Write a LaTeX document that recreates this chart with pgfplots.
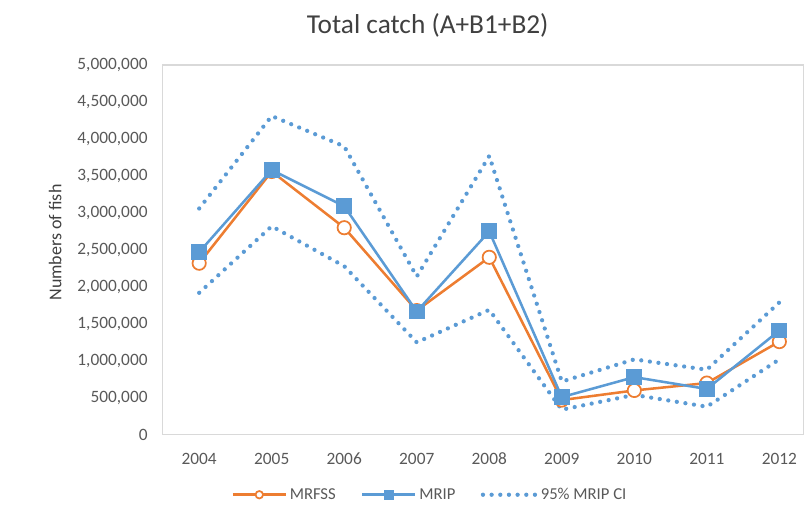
\documentclass[border=0pt]{standalone}
\usepackage{fontspec}
\setmainfont{Carlito}
\usepackage{pgfplots}
\pgfplotsset{compat=1.18}
\definecolor{mrfss}{HTML}{ED7D31}
\definecolor{mrip}{HTML}{5B9BD5}
\definecolor{axgray}{HTML}{D9D9D9}
\definecolor{txtgray}{HTML}{595959}
\definecolor{titlegray}{HTML}{404040}
\begin{document}
\begin{tikzpicture}
\begin{axis}[
    scale only axis,
    width=481pt, height=277.5pt,
    xmin=-0.5, xmax=8.34,
    ymin=0, ymax=5000000,
    xtick={0,1,2,3,4,5,6,7,8},
    xticklabels={2004,2005,2006,2007,2008,2009,2010,2011,2012},
    ytick={0,500000,1000000,1500000,2000000,2500000,3000000,3500000,4000000,4500000,5000000},
    scaled y ticks=false,
    major tick length=0pt,
    axis line style={axgray, line width=0.8pt},
    ticklabel style={font=\fontsize{13}{15}\selectfont, text=txtgray},
    yticklabel style={xshift=-8pt, /pgf/number format/fixed,
        /pgf/number format/1000 sep={,}, /pgf/number format/assume math mode=true},
    xticklabel style={yshift=-10pt},
    ylabel={Numbers of fish},
    ylabel style={at={(axis description cs:-0.168,0.52)}, anchor=center,
        font=\fontsize{13.5}{15}\selectfont, text=titlegray},
    title={Total catch (A+B1+B2)},
    title style={at={(0.413,1)}, anchor=center, yshift=24pt,
        font=\fontsize{20.5}{24}\selectfont, text=titlegray},
    legend columns=3,
    legend style={at={(0.417,-0.162)}, anchor=center, draw=none,
        font=\fontsize{12.5}{14}\selectfont, text=txtgray,
        /tikz/every even column/.append style={column sep=17pt}},
    legend image code/.code={
        \draw[mark repeat=2, mark phase=2, mark size=2.8pt]
            plot coordinates {(0cm,0cm) (0.7cm,0cm) (1.4cm,0cm)};},
]
\addplot[mrfss, line width=1.9pt, mark=*, mark size=5pt,
    mark options={fill=white, line width=1.3pt}] coordinates {
    (0,2320000) (1,3560000) (2,2800000) (3,1680000) (4,2400000)
    (5,470000) (6,600000) (7,700000) (8,1260000)
};
\addlegendentry{MRFSS}
\addplot[mrip, line width=1.9pt, mark=square*, mark size=5pt,
    mark options={fill=mrip}] coordinates {
    (0,2470000) (1,3580000) (2,3090000) (3,1667000) (4,2750000)
    (5,510000) (6,780000) (7,620000) (8,1410000)
};
\addlegendentry{MRIP}
\addplot[mrip, line width=3.2pt, line cap=round, dash pattern=on 0pt off 6.5pt] coordinates {
    (0,3060000) (1,4310000) (2,3900000) (3,2140000) (4,3770000)
    (5,720000) (6,1020000) (7,880000) (8,1790000)
};
\addlegendentry{95\% MRIP CI}
\addplot[mrip, line width=3.2pt, line cap=round, dash pattern=on 0pt off 6.5pt, forget plot] coordinates {
    (0,1920000) (1,2820000) (2,2280000) (3,1250000) (4,1690000)
    (5,340000) (6,540000) (7,380000) (8,1020000)
};
\end{axis}
\pgfresetboundingbox
\path ([shift={(-122.25pt,-67.5pt)}]current axis.south west)
    rectangle ([shift={(0pt,48.75pt)}]current axis.north east);
\end{tikzpicture}
\end{document}
